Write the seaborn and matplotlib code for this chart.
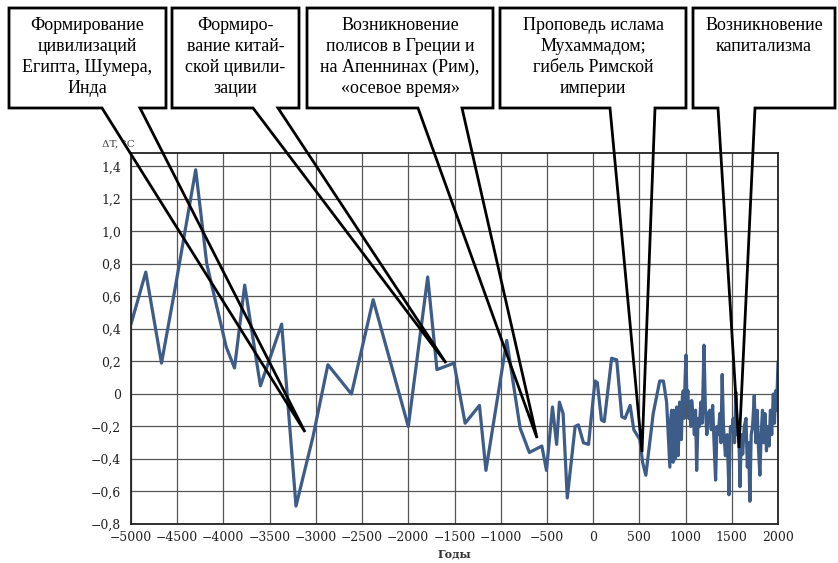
import matplotlib
matplotlib.use("Agg")
import matplotlib.pyplot as plt
from matplotlib.patches import Polygon
import seaborn as sns
import pandas as pd

# ---- data ----
years_early = [-5000, -4840, -4670, -4520, -4300, -4180, -3970, -3880, -3770, -3600,
               -3370, -3215, -3030, -2870, -2615, -2380, -2000, -1790, -1690, -1505,
               -1385, -1230, -1160, -935, -790, -690, -555, -505, -440, -395,
               -365, -325, -280, -195, -160, -105, -50, 20, 45, 90,
               120, 200, 255, 310, 345, 400, 440, 505, 535, 570,
               650, 720, 760, 795]
temps_early = [0.43, 0.75, 0.19, 0.66, 1.38, 0.80, 0.29, 0.16, 0.67, 0.05,
               0.43, -0.69, -0.26, 0.18, 0.00, 0.58, -0.20, 0.72, 0.15, 0.19,
               -0.18, -0.07, -0.47, 0.33, -0.21, -0.36, -0.32, -0.47, -0.08, -0.31,
               -0.05, -0.12, -0.64, -0.20, -0.19, -0.30, -0.31, 0.08, 0.07, -0.16,
               -0.17, 0.22, 0.21, -0.14, -0.15, -0.07, -0.22, -0.28, -0.42, -0.50,
               -0.12, 0.08, 0.08, -0.05]
years_late = [830, 840, 849, 857, 865, 873, 880, 888, 895, 903,
              910, 918, 925, 935, 945, 955, 965, 975, 985, 995,
              1005, 1015, 1025, 1035, 1045, 1055, 1066, 1080, 1095, 1108,
              1120, 1135, 1150, 1165, 1180, 1199, 1215, 1230, 1245, 1262,
              1278, 1293, 1308, 1325, 1340, 1355, 1370, 1383, 1396, 1410,
              1431, 1450, 1470, 1485, 1500, 1515, 1530, 1545, 1560, 1575,
              1589, 1603, 1618, 1635, 1654, 1668, 1682, 1696, 1710, 1725,
              1743, 1760, 1775, 1790, 1804, 1818, 1832, 1846, 1859, 1875,
              1890, 1904, 1918, 1932, 1949, 1962, 1975, 1985, 1993, 2000]
temps_late = [-0.45, -0.15, -0.10, -0.38, -0.42, -0.10, -0.12, -0.40, -0.35, -0.08,
              -0.12, -0.38, -0.30, -0.05, -0.12, -0.28, -0.02, 0.02, -0.15, 0.10,
              0.24, -0.05, 0.02, -0.15, -0.05, -0.20, -0.04, -0.12, -0.25, -0.10,
              -0.47, -0.15, -0.20, -0.05, -0.18, 0.30, -0.10, -0.25, -0.12, -0.10,
              -0.22, -0.07, -0.30, -0.53, -0.20, -0.25, -0.12, -0.30, 0.12, -0.20,
              -0.38, -0.25, -0.62, -0.20, -0.23, -0.15, -0.30, 0.01, -0.25, -0.20,
              -0.57, -0.25, -0.37, -0.20, -0.15, -0.45, -0.30, -0.66, -0.25, -0.20,
              -0.01, -0.30, -0.10, -0.35, -0.50, -0.25, -0.10, -0.30, -0.12, -0.35,
              -0.20, -0.32, -0.10, -0.25, 0.00, -0.18, 0.02, -0.10, 0.05, 0.20]

xtick_values = [-5000, -4500, -4000, -3500, -3000, -2500, -2000, -1500, -1000, -500,
                0, 500, 1000, 1500, 2000]
xtick_labels = ["−5000", "−4500", "−4000", "−3500", "−3000", "−2500", "−2000", "−1500",
                "−1000", "−500", "0", "500", "1000", "1500", "2000"]
ytick_values = [-0.8, -0.6, -0.4, -0.2, 0.0, 0.2, 0.4, 0.6, 0.8, 1.0, 1.2, 1.4]
ytick_labels = ["−0,8", "−0,6", "−0,4", "−0,2", "0", "0,2", "0,4", "0,6", "0,8",
                "1,0", "1,2", "1,4"]

callout_texts = [
    "Формирование\nцивилизаций\nЕгипта, Шумера,\nИнда",
    "Формиро-\nвание китай-\nской цивили-\nзации",
    "Возникновение\nполисов в Греции и\nна Апеннинах (Рим),\n«осевое время»",
    "Проповедь ислама\nМухаммадом;\nгибель Римской\nимперии",
    "Возникновение\nкапитализма",
]

# ---- figure ----
sns.set_theme(style="white")
plt.rcParams["font.family"] = ["Liberation Serif", "DejaVu Serif"]

W, H = 838, 563
fig = plt.figure(figsize=(W / 100, H / 100), dpi=100)
ax = fig.add_axes([131 / W, 1 - 524 / H, (778 - 131) / W, (524 - 153) / H])

df = pd.DataFrame({"year": years_early + years_late, "dT": temps_early + temps_late})
sns.lineplot(data=df, x="year", y="dT", ax=ax, color="#3d5c88", linewidth=2.3,
             estimator=None, sort=False)

tick_font = dict(family=["DejaVu Serif"], size=8.9, color="#222222")
ax.set_xlim(-5000, 2000)
ax.set_ylim(-0.8, 1.483)
ax.set_xticks(xtick_values)
ax.set_xticklabels(xtick_labels, fontdict=tick_font)
ax.set_yticks(ytick_values)
ax.set_yticklabels(ytick_labels, fontdict=tick_font)
ax.tick_params(axis="x", length=0, pad=5)
ax.tick_params(axis="y", length=0, pad=7)
ax.grid(True, color="#555555", linewidth=0.9)
for s in ax.spines.values():
    s.set_color("#222222")
    s.set_linewidth(1.3)
ax.set_xlabel("Годы", fontsize=8, fontweight="bold", labelpad=3,
              family=["DejaVu Serif"], color="#333333")
ax.set_ylabel("")
fig.text(102 / W, 1 - 144 / H, "ΔT, °C", fontsize=7.5, ha="left", va="center",
         color="#444444", family=["DejaVu Serif"])

# ---- callout boxes (pixel coords from top-left) ----
boxes = [
    (9, 166, 102, 140, (305, 432)),
    (172, 299, 253, 278, (446, 363)),
    (307, 493, 418, 462, (537, 438)),
    (500, 686, 610, 655, (642, 452)),
    (693, 835, 718, 755, (739, 448)),
]
top, bottom = 8, 108


def fp(px, py):
    return (px / W, 1 - py / H)


for (l, r, g1, g2, tip), txt in zip(boxes, callout_texts):
    pts = [fp(l, top), fp(r, top), fp(r, bottom), fp(g2, bottom), fp(*tip),
           fp(g1, bottom), fp(l, bottom)]
    poly = Polygon(pts, closed=True, facecolor="none", edgecolor="black",
                   linewidth=2.0, transform=fig.transFigure, zorder=10,
                   joinstyle="miter")
    fig.add_artist(poly)
    fig.text((l + r) / 2 / W, 1 - 17 / H, txt, ha="center", va="top",
             fontsize=13, linespacing=1.30, color="black")

fig.savefig("out.png", dpi=100, facecolor="white")
